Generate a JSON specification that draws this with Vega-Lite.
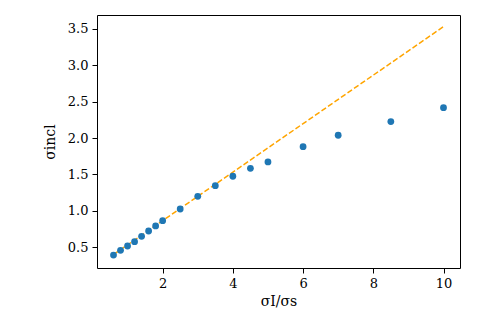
{
  "$schema": "https://vega.github.io/schema/vega-lite/v6.json",
  "autosize": "none",
  "width": 363,
  "height": 253,
  "padding": {"left": 97, "top": 15, "right": 25, "bottom": 47},
  "background": "white",
  "config": {
    "view": {"stroke": "black", "strokeWidth": 1},
    "axis": {
      "grid": false,
      "domain": false,
      "tickColor": "black",
      "tickSize": 5,
      "labelPadding": 4,
      "labelFont": "DejaVu Serif",
      "labelFontSize": 13,
      "labelColor": "black",
      "titleFont": "DejaVu Serif",
      "titleFontSize": 14,
      "titleFontWeight": "normal",
      "titleColor": "black"
    }
  },
  "datasets": {
    "points": [
      {"x": 0.6, "y": 0.394},
      {"x": 0.8, "y": 0.459},
      {"x": 1.0, "y": 0.518},
      {"x": 1.2, "y": 0.577},
      {"x": 1.4, "y": 0.651},
      {"x": 1.6, "y": 0.724},
      {"x": 1.8, "y": 0.793},
      {"x": 2.0, "y": 0.866},
      {"x": 2.5, "y": 1.026},
      {"x": 3.0, "y": 1.2},
      {"x": 3.5, "y": 1.347},
      {"x": 4.0, "y": 1.476},
      {"x": 4.5, "y": 1.585},
      {"x": 5.0, "y": 1.672},
      {"x": 6.0, "y": 1.882},
      {"x": 7.0, "y": 2.039},
      {"x": 8.5, "y": 2.226},
      {"x": 10.0, "y": 2.418}
    ],
    "line": [
      {"x": 0.6, "y": 0.4},
      {"x": 10.0, "y": 3.53}
    ]
  },
  "layer": [
    {
      "data": {"name": "line"},
      "mark": {"type": "line", "color": "#FFA500", "strokeWidth": 1.5, "strokeDash": [5.5, 2.4]},
      "encoding": {
        "x": {"field": "x", "type": "quantitative"},
        "y": {"field": "y", "type": "quantitative"}
      }
    },
    {
      "data": {"name": "points"},
      "mark": {"type": "circle", "color": "#1f77b4", "opacity": 1, "size": 46},
      "encoding": {
        "x": {
          "field": "x", "type": "quantitative",
          "scale": {"domain": [0.13, 10.47], "nice": false, "zero": false},
          "axis": {"values": [2, 4, 6, 8, 10], "title": "σI/σs", "titlePadding": 4}
        },
        "y": {
          "field": "y", "type": "quantitative",
          "scale": {"domain": [0.216, 3.69], "nice": false, "zero": false},
          "axis": {"values": [0.5, 1.0, 1.5, 2.0, 2.5, 3.0, 3.5], "format": ".1f", "title": "σincl", "titlePadding": 10}
        }
      }
    }
  ]
}
